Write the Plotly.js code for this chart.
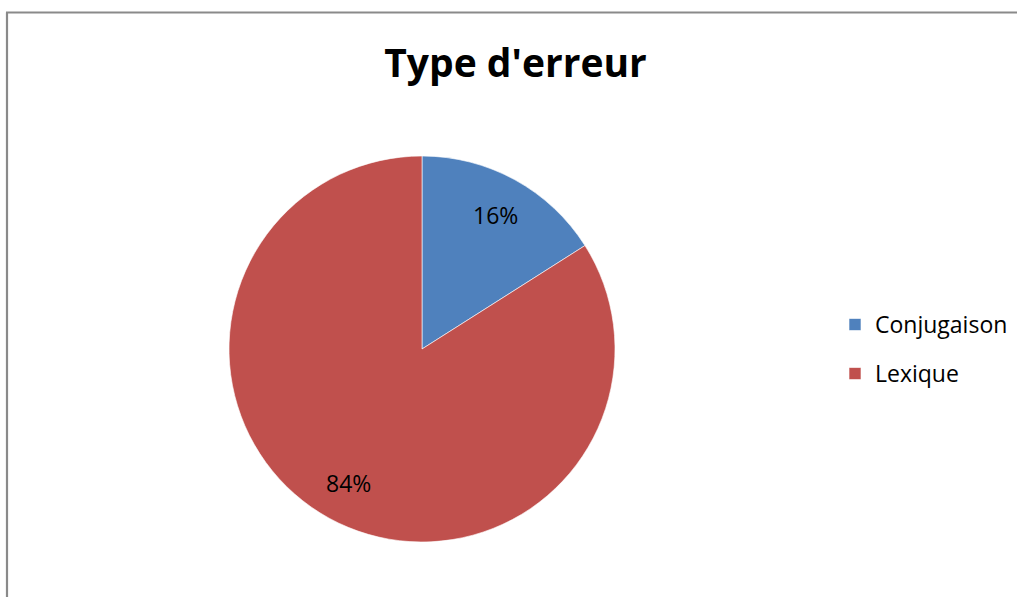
<!DOCTYPE html>
<html>
<head>
<meta charset="utf-8">
<script src="https://cdn.plot.ly/plotly-3.0.1.min.js"></script>
<style>
  html, body { margin: 0; padding: 0; background: #ffffff; }
  #chart { width: 1017px; height: 597px; }
</style>
</head>
<body>
<div id="chart"></div>
<script>
// ---- data ----
const chartTitle = "Type d'erreur";
const categories = ["Conjugaison", "Lexique"];
const values = [16, 84];
const sliceColors = ["#4F81BD", "#C0504D"];

// ---- layout helpers (pixels -> paper) ----
const W = 1017, H = 597;
const cx = 422, cy = 349, r = 193;
const px = v => v / W;
const py = v => 1 - v / H;
const labelRadius = 0.79;   // data labels placed along slice bisector
const textSize = 23;

// percent labels along each slice bisector (clockwise from 12 o'clock)
const total = values.reduce((a, b) => a + b, 0);
let cum = 0;
const labelAnnotations = values.map(v => {
  const theta = 2 * Math.PI * (cum + v / 2) / total;
  cum += v;
  return {
    xref: "paper", yref: "paper",
    x: px(cx + labelRadius * r * Math.sin(theta)),
    y: py(cy - labelRadius * r * Math.cos(theta)),
    xanchor: "center", yanchor: "middle",
    text: Math.round(100 * v / total) + "%",
    showarrow: false,
    font: { family: "Open Sans", size: textSize, color: "#000000" }
  };
});

const legendLabels = categories.map(c =>
  `<span style="font-size:${textSize}px;baseline-shift:5px">${c}</span>`);

const trace = {
  type: "pie",
  labels: legendLabels,
  values: values,
  sort: false,
  direction: "clockwise",
  rotation: 0,
  marker: { colors: sliceColors, line: { color: "#ffffff", width: 0.6 } },
  textinfo: "none",
  hoverinfo: "percent",
  domain: { x: [px(cx - r), px(cx + r)], y: [py(cy + r), py(cy - r)] }
};

const layout = {
  width: W,
  height: H,
  margin: { l: 0, r: 0, t: 0, b: 0, pad: 0 },
  paper_bgcolor: "#ffffff",
  plot_bgcolor: "#ffffff",
  font: { family: "Open Sans", color: "#000000" },
  title: {
    text: chartTitle,
    font: { family: "Open Sans", size: 39, weight: "bold", color: "#000000" },
    x: px(515.5), xanchor: "center", xref: "paper",
    y: py(63.3), yanchor: "middle", yref: "container"
  },
  showlegend: true,
  legend: {
    x: px(835), xanchor: "left",
    y: py(349.5), yanchor: "middle",
    font: { family: "Open Sans", size: 35.4, color: "#000000" },
    itemwidth: 30,
    bgcolor: "rgba(0,0,0,0)"
  },
  annotations: labelAnnotations,
  shapes: [
    { type: "line", xref: "paper", yref: "paper", x0: px(7), x1: px(7), y0: py(12.5), y1: -0.05,
      line: { color: "#8a8a8a", width: 2.2 } },
    { type: "line", xref: "paper", yref: "paper", x0: px(6), x1: 1.05, y0: py(12.5), y1: py(12.5),
      line: { color: "#8a8a8a", width: 2 } }
  ]
};

Plotly.newPlot("chart", [trace], layout, { displayModeBar: false, staticPlot: true });
</script>
</body>
</html>
